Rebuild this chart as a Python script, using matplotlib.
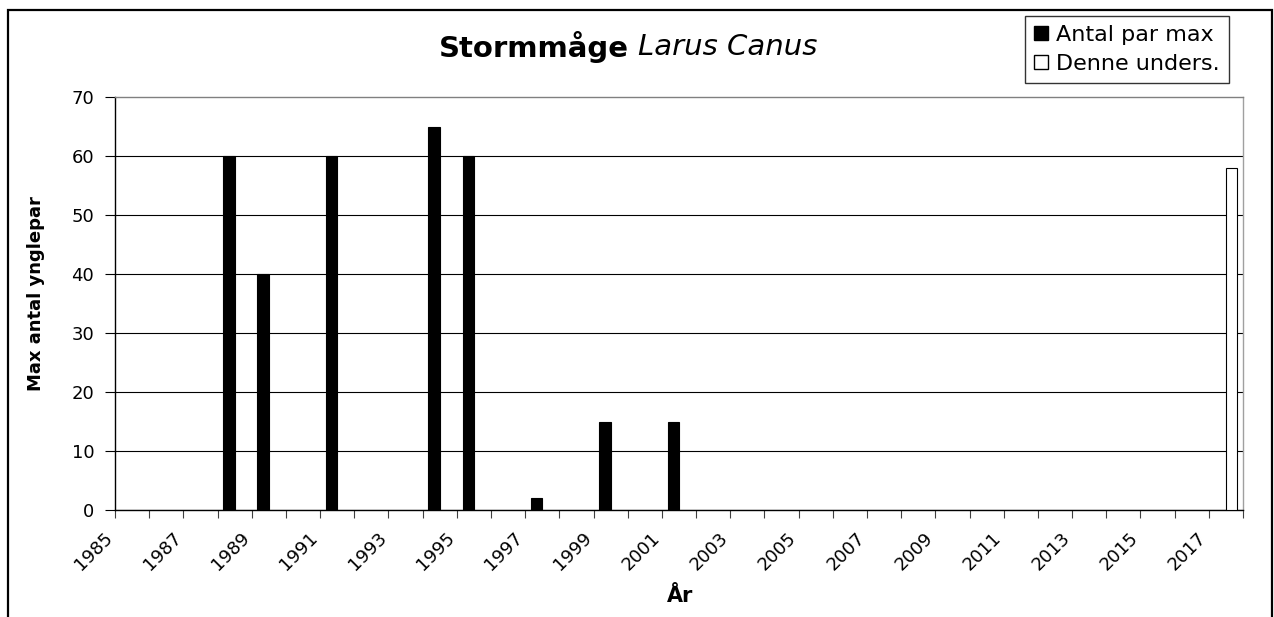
import numpy as np
import matplotlib
matplotlib.use("Agg")
import matplotlib.pyplot as plt
from matplotlib.patches import Patch, Rectangle
from matplotlib.transforms import ScaledTranslation

# data
years = list(range(1985, 2018))
antal_years = [1988, 1989, 1991, 1994, 1995, 1997, 1999, 2001]
antal_values = [60, 40, 60, 65, 60, 2, 15, 15]
denne_years = [2017]
denne_values = [58]
y_ticks = [0, 10, 20, 30, 40, 50, 60, 70]

plt.rcParams["font.family"] = ["DejaVu Sans"]

W, H = 1274, 617
fig = plt.figure(figsize=(W / 100, H / 100), dpi=100)
fig.patch.set_facecolor("white")

# plot area in pixels: left 115, right 1243, top 97, bottom 510
ax = fig.add_axes([115 / W, 1 - 510 / H, 1128 / W, 413 / H])

bw = 1 / 3
x_black = [y - years[0] - bw / 2 for y in antal_years]
x_white = [y - years[0] + bw / 2 for y in denne_years]
ax.bar(x_black, antal_values, width=bw, color="black", edgecolor="black",
       linewidth=0.8, zorder=3)
ax.bar(x_white, denne_values, width=bw, color="white", edgecolor="black",
       linewidth=0.8, zorder=3)

ax.set_xlim(-0.5, len(years) - 0.5)
ax.set_ylim(0, 70)

# category boundaries carry the tick marks, every other one a year label
bounds = np.arange(len(years) + 1) - 0.5
labels = [str(years[k]) if (k % 2 == 0 and k < len(years)) else "" for k in range(len(bounds))]
ax.set_xticks(bounds)
ax.set_xticklabels(labels, rotation=45, ha="right", va="center",
                   rotation_mode="anchor", fontsize=13)
ax.tick_params(axis="x", length=6, width=0.8, pad=12, color="#404040")
shift = ScaledTranslation(-5 / 100, 0, fig.dpi_scale_trans)
for lab in ax.get_xticklabels():
    lab.set_transform(lab.get_transform() + shift)

ax.set_yticks(y_ticks)
ax.set_yticklabels([str(v) for v in y_ticks], fontsize=13)
ax.tick_params(axis="y", length=7, width=0.8, pad=8)

ax.yaxis.grid(True, color="black", linewidth=0.8, zorder=0)
ax.get_ygridlines()[-1].set_visible(False)
ax.set_axisbelow(True)

ax.spines["left"].set_color("black")
ax.spines["bottom"].set_color("black")
ax.spines["top"].set_color("#808080")
ax.spines["right"].set_color("#a0a0a0")
for s in ax.spines.values():
    s.set_linewidth(1.0)

# axis titles
fig.text(680 / W, 1 - 596 / H, "År", fontsize=15, fontweight="bold",
         ha="center", va="center")
fig.text(36 / W, 1 - 294 / H, "Max antal ynglepar", fontsize=13,
         fontweight="bold", rotation=90, ha="center", va="center")

# title: bold common name + italic latin name
fig.text(629 / W, 1 - 47 / H, "Stormmåge", fontsize=21, fontweight="bold",
         ha="right", va="center")
fig.text(638 / W, 1 - 47 / H, "Larus Canus", fontsize=21, fontstyle="italic",
         ha="left", va="center")

handles = [Patch(facecolor="black", edgecolor="black", label="Antal par max"),
           Patch(facecolor="white", edgecolor="black", label="Denne unders.")]
leg = fig.legend(handles=handles, loc="upper right",
                 bbox_to_anchor=(1229 / W, 1 - 16 / H), fontsize=16,
                 frameon=True, fancybox=False, shadow=False, borderaxespad=0,
                 handlelength=0.6, handleheight=0.6, handletextpad=0.4,
                 borderpad=0.4, labelspacing=0.4)
leg.get_frame().set_edgecolor("black")
leg.get_frame().set_linewidth(1.0)

# outer chart border, running off the bottom of the image
fig.add_artist(Rectangle((8 / W, -0.05), 1264 / W, 1.05 - 10 / H,
                         transform=fig.transFigure, fill=False,
                         edgecolor="black", linewidth=1.6, clip_on=False))

fig.savefig("out.png", dpi=100)
